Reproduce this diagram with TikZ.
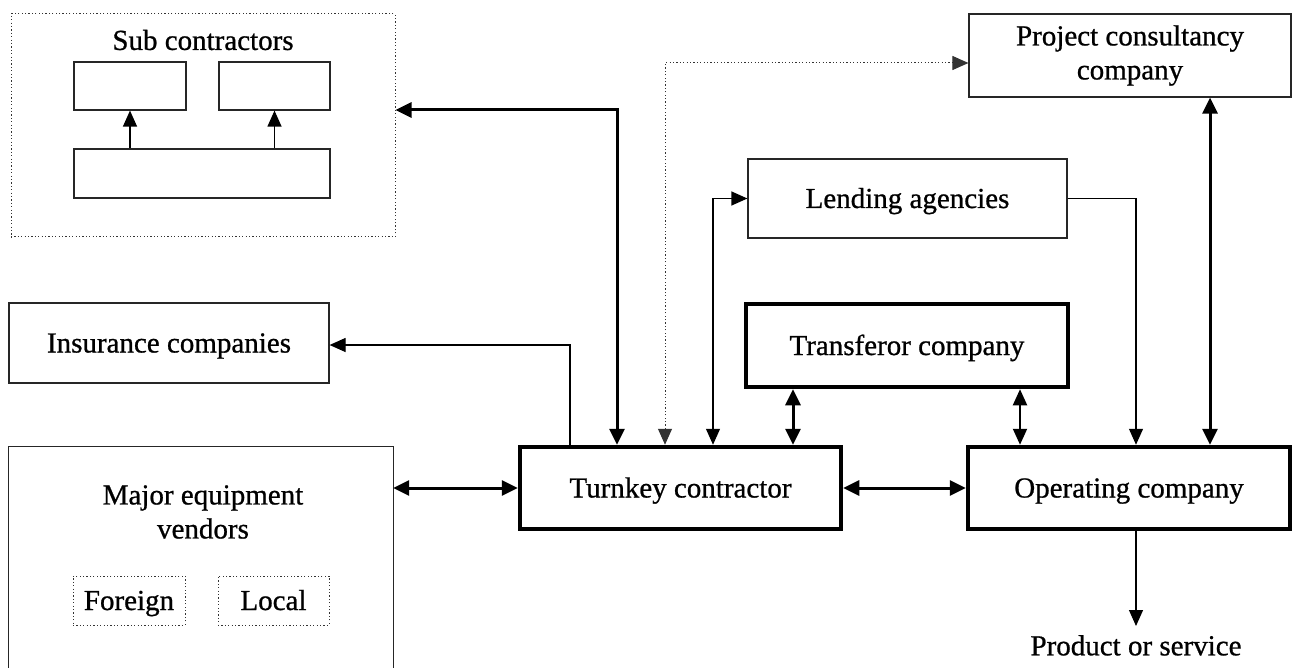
\documentclass[tikz,border=0pt]{standalone}
\usepackage{fontspec}
\setmainfont{Liberation Serif}[FakeBold=0.8]
\usetikzlibrary{arrows.meta}
\begin{document}
\begin{tikzpicture}[x=1pt,y=-1pt,
  font=\fontsize{29}{34}\selectfont,
  thinbox/.style={draw=black!85,line width=1.2pt,inner sep=0pt},
  thickbox/.style={draw=black,line width=4.5pt,inner sep=0pt},
  dotbox/.style={draw=black!80,line width=1pt,dash pattern=on 1.2pt off 2.2pt,inner sep=0pt},
  thinc/.style={line width=1.2pt,draw=black,{Triangle[width=14pt,length=16pt]}-{Triangle[width=14pt,length=16pt]}},
  thinc1/.style={line width=1.2pt,draw=black,-{Triangle[width=14pt,length=16pt]}},
  medc/.style={line width=2pt,draw=black,{Triangle[width=14pt,length=16pt]}-{Triangle[width=14pt,length=16pt]}},
  thickc/.style={line width=3pt,draw=black,{Triangle[width=15pt,length=16pt]}-{Triangle[width=15pt,length=16pt]}},
  dotc/.style={line width=1pt,draw=black!80,dash pattern=on 1.2pt off 2.2pt,{Triangle[width=14pt,length=16pt]}-{Triangle[width=14pt,length=16pt]}},
  plain/.style={inner sep=0pt},
  fixtext/.style={text height=23pt,text depth=4pt}
]
\useasboundingbox[fill=white] (0,0) rectangle (1297,668);

% Sub contractors group
\node[dotbox,minimum width=384,minimum height=223] (sub) at (203,125.5) {};
\node[plain] (sublabel) at (203,40) {Sub contractors};
\node[thinbox,minimum width=112,minimum height=48] (sub1) at (130,86) {};
\node[thinbox,minimum width=111,minimum height=48] (sub2) at (274.5,86) {};
\node[thinbox,minimum width=256,minimum height=49] (sub3) at (202,173.5) {};
\draw[thinc1] (sub3.north -| sub1) -- (sub1.south);
\draw[thinc1] (sub3.north -| sub2) -- (sub2.south);

% Other boxes
\node[thinbox,minimum width=322,minimum height=83,align=center] (project) at (1130,55.5) {Project consultancy\\company};
\node[thinbox,minimum width=319,minimum height=79,fixtext] (lending) at (907.5,198.5) {Lending agencies};
\node[thinbox,minimum width=320,minimum height=80,fixtext] (insurance) at (169,343) {Insurance companies};
\node[thickbox,minimum width=322,minimum height=83,fixtext] (transferor) at (907,345.5) {Transferor company};
\node[thickbox,minimum width=321,minimum height=82,fixtext] (turnkey) at (680.5,488) {Turnkey contractor};
\node[thickbox,minimum width=322,minimum height=82,fixtext] (operating) at (1129,488) {Operating company};

% Major equipment vendors (open at the bottom)
\node[plain,minimum width=384,minimum height=221] (major) at (201,557.5) {};
\draw[draw=black!85,line width=1.2pt] (major.south west) -- (major.north west) -- (major.north east) -- (major.south east);
\node[plain,align=center] (majorlabel) at (203,512) {Major equipment\\vendors};
\node[dotbox,minimum width=112,minimum height=49,fixtext] (foreign) at (129,600.5) {Foreign};
\node[dotbox,minimum width=111,minimum height=49,fixtext] (local) at (273.5,600.5) {Local};

\node[plain,anchor=north,inner ysep=9pt] (product) at (1136,626) {Product or service};

% connector guide coordinates
\coordinate (xs) at (617,110);
\coordinate (xd) at (665,63);
\coordinate (xl) at (713,0);
\coordinate (xi) at (570,345);
\coordinate (xt) at (793,0);
\coordinate (xo) at (1020,0);
\coordinate (xlo) at (1136,0);
\coordinate (xp) at (1210,0);

% connectors
\draw[thickc] (sub.east |- xs) -| (turnkey.north -| xs);
\draw[dotc] (turnkey.north -| xd) |- (project.west |- xd);
\draw[thinc] (turnkey.north -| xl) |- (lending.west);
\draw[thinc1] (turnkey.north -| xi) |- (insurance.east |- xi);
\draw[thickc] (transferor.south -| xt) -- (turnkey.north -| xt);
\draw[medc] (transferor.south -| xo) -- (operating.north -| xo);
\draw[thinc1] (lending.east) -| (operating.north -| xlo);
\draw[thickc] (project.south -| xp) -- (operating.north -| xp);
\draw[thickc] (major.east |- turnkey.west) -- (turnkey.west);
\draw[thickc] (turnkey.east) -- (operating.west);
\draw[thinc1] (operating.south -| xlo) -- (product.north);
\end{tikzpicture}
\end{document}
